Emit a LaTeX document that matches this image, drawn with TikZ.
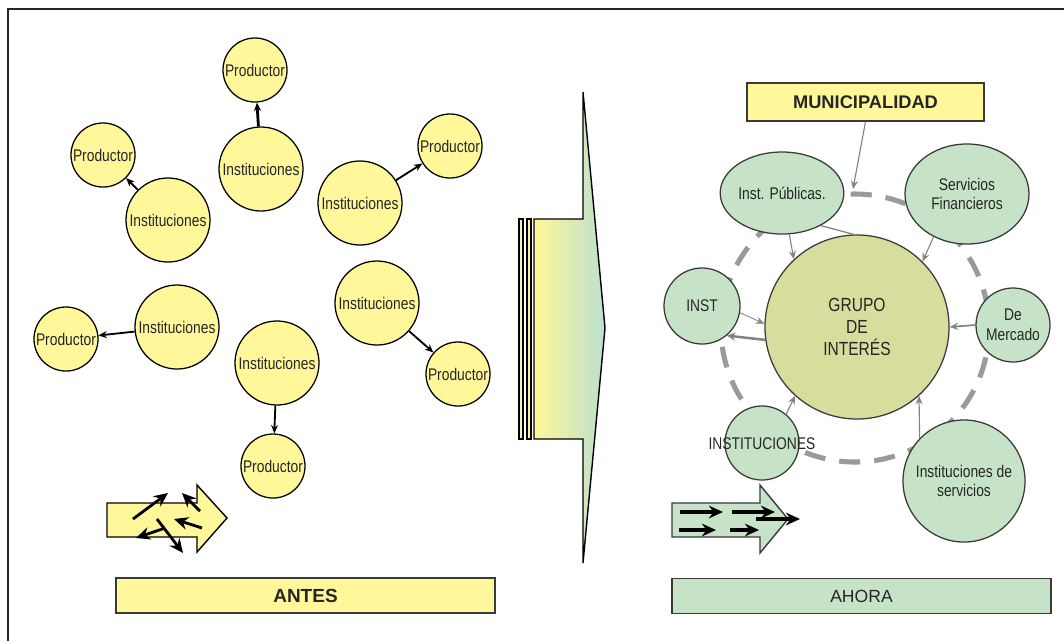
\documentclass[tikz,border=0pt]{standalone}
\usepackage{fontspec}
\setmainfont{Liberation Sans}
\newfontfamily\narrowfont{Liberation Sans}[FakeStretch=0.82]
\usetikzlibrary{arrows.meta,shapes.geometric}
\definecolor{ylw}{HTML}{FFF799}
\definecolor{grn}{HTML}{C6E3C8}
\definecolor{grnend}{HTML}{BCE0CF}
\definecolor{olv}{HTML}{D8DC9C}
\definecolor{ringgray}{HTML}{9A9A9A}
\definecolor{ink}{HTML}{262626}
\definecolor{edge}{HTML}{3A3A3A}

\begin{document}
\begin{tikzpicture}[x=0.025cm,y=-0.025cm,
  ytxt/.style={font=\narrowfont\fontsize{12}{12}\selectfont, text=ink},
  prod/.style={circle, draw=black, line width=0.9pt, fill=ylw, minimum size=1.6cm, inner sep=0pt, ytxt},
  instn/.style={circle, draw=black, line width=0.9pt, fill=ylw, minimum size=2.1cm, inner sep=0pt, ytxt},
  gnode/.style={draw=edge, line width=0.9pt, fill=grn, inner sep=0pt, align=center,
    font=\narrowfont\fontsize{12}{14}\selectfont, text=ink},
  gcirc/.style={gnode, circle},
  gell/.style={gnode, ellipse},
  link/.style={draw=black, line width=1.3pt, -{Stealth[length=6pt,width=5pt]}},
  glink/.style={draw=ringgray!85!black, line width=0.8pt, -{Stealth[length=6pt,width=5pt]}},
  blk/.style={draw=black, line width=2pt, -{Stealth[length=10pt,width=9pt]}},
  tag/.style={draw=edge, line width=0.9pt, minimum height=0.875cm, inner sep=0pt, text=ink}
]
\useasboundingbox (0,0) rectangle (1064,641);

% outer frame (top and left edges)
\draw[ink, line width=1.5pt] (1064,9) -- (8,9) -- (8,641);

% ---------- left half: scattered pairs ----------
\node[prod]  (p1) at (255,70)  {Productor};
\node[instn] (i1) at (261,169) {Instituciones};
\node[prod]  (p2) at (103,155) {Productor};
\node[instn] (i2) at (168,220) {Instituciones};
\node[prod]  (p3) at (450,146) {Productor};
\node[instn] (i3) at (360,203) {Instituciones};
\node[instn] (i4) at (377,303) {Instituciones};
\node[prod]  (p4) at (458,374) {Productor};
\node[prod]  (p5) at (66,339)  {Productor};
\node[instn] (i5) at (177,327) {Instituciones};
\node[instn] (i6) at (277,363) {Instituciones};
\node[prod]  (p6) at (273,466) {Productor};

\draw[link, line width=2pt] (i1) -- (p1);
\draw[link] (i2) -- (p2);
\draw[link] (i3) -- (p3);
\draw[link] (i4) -- (p4);
\draw[link] (i5) -- (p5);
\draw[link] (i6) -- (p6);

% scattered-arrows block arrow
\draw[black, line width=1pt, fill=ylw]
  (107,503) -- (197,503) -- (197,485) -- (227,518) -- (197,552) -- (197,537) -- (107,537) -- cycle;
\draw[blk] (133,519) -- (168,493);
\draw[blk] (200,511) -- (182,493);
\draw[blk] (202,528) -- (174,519);
\draw[blk] (157,519) -- (183,553);
\draw[blk] (165,528) -- (136,538);

\node[tag, fill=ylw, minimum width=9.475cm, font=\bfseries\fontsize{13.5}{14}\selectfont]
  (antes) at (305.5,595.5) {ANTES};

% ---------- central transition arrow ----------
\path[draw=black, line width=1pt, left color=ylw, right color=grnend]
  (534,219) -- (583,219) -- (583,92) -- (605,328) -- (583,563) -- (583,439) -- (534,439) -- cycle;
\draw[black, line width=0.9pt, fill=ylw!85!grn] (519,219) rectangle (523,439);
\draw[black, line width=0.9pt, fill=ylw!85!grn] (527,219) rectangle (531,439);

% ---------- right half: network around the interest group ----------
\draw[ringgray, line width=3.6pt, dash pattern=on 15pt off 10pt, dash phase=4pt]
  (855,328) circle [radius=134];

\node[tag, fill=ylw, minimum width=5.925cm, minimum height=0.95cm,
  font=\bfseries\fontsize{13}{14}\selectfont] (muni) at (865.5,102) {MUNICIPALIDAD};

\node[gcirc, fill=olv, minimum size=4.6cm, font=\narrowfont\fontsize{13.5}{15.5}\selectfont]
  (grupo) at (857,327) {GRUPO\\DE\\INTERÉS};
\node[gell, minimum width=2.5cm, minimum height=2.05cm] (ip) at (782,193) {Inst. Públicas.};
\node[gell, minimum width=3.1cm, minimum height=2.5cm] (sf) at (967,194) {Servicios\\Financieros};
\node[gcirc, minimum size=1.9cm] (inst) at (702,306) {INST};
\node[gcirc, minimum size=1.85cm] (dm) at (1013,325) {De\\Mercado};
\node[gcirc, minimum size=1.85cm] (ic) at (762,443) {};
\node[ytxt, fill=none] (ictext) at (762,444) {INSTITUCIONES};
\node[gcirc, minimum size=3.05cm] (ids) at (964,481) {Instituciones de\\servicios};

\coordinate (ringtop) at (853,189);
\draw[glink] (muni.south) -- (ringtop);
\draw[glink] (ip.-80) -- (grupo.133);
\draw[ringgray!85!black, line width=0.9pt] (ip.-40) -- (grupo.92);
\draw[glink] (sf.-128) -- (grupo.45);
\draw[glink, line width=0.6pt] (inst.-10) -- (grupo.178);
\draw[glink, line width=1.8pt, -{Stealth[length=6pt,width=6pt,open]}] (grupo.188) -- (inst.-50);
\draw[glink, line width=1.2pt] (dm.west) -- (grupo.east);
\draw[glink] (ic.50) -- (grupo.228);
\draw[glink] (ids.136) -- (grupo.-48);

% straight-flow block arrow
\draw[edge, line width=1pt, fill=grn]
  (672,503) -- (760,503) -- (760,485) -- (788,519) -- (760,553) -- (760,537) -- (672,537) -- cycle;
\draw[blk, line width=2.4pt] (680,512) -- (723,512);
\draw[blk, line width=2.4pt] (732,512) -- (775,512);
\draw[blk, line width=2.4pt] (679,530) -- (716,530);
\draw[blk, line width=2.4pt] (730,530) -- (759,530);
\draw[blk, line width=2.4pt] (756,519) -- (800,519);

\node[tag, fill=grn, minimum width=9.475cm, font=\fontsize{12.5}{14}\selectfont]
  (ahora) at (861.5,596) {AHORA};
\end{tikzpicture}
\end{document}
